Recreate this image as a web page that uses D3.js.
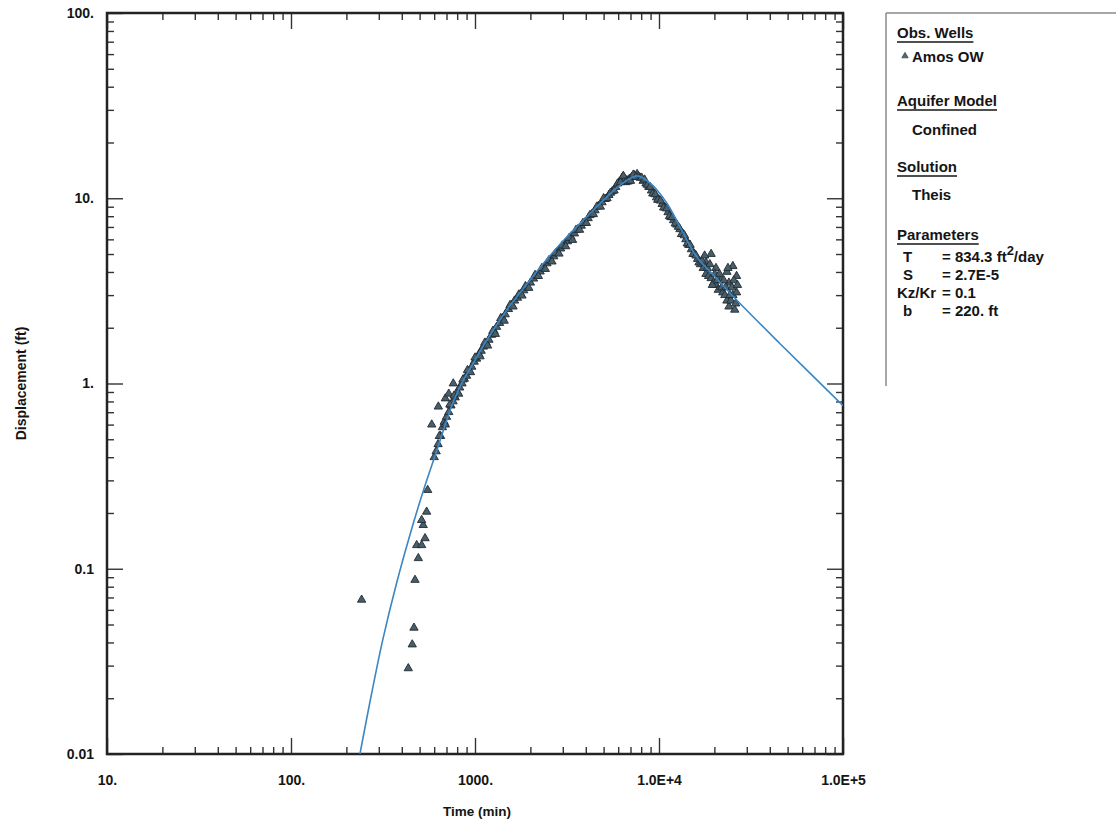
<!DOCTYPE html>
<html>
<head>
<meta charset="utf-8">
<script src="https://cdn.jsdelivr.net/npm/d3@7"></script>
<style>
  body { margin: 0; background: #fff; }
  text { font-family: "Liberation Sans", Arial, sans-serif; font-weight: bold; fill: #151515; }
</style>
</head>
<body>
<svg width="1116" height="831"></svg>
<script>
// axis decades and their printed labels
const xDecades = [10, 100, 1000, 1e4, 1e5];
const xTickLabels = ["10.", "100.", "1000.", "1.0E+4", "1.0E+5"];
const yDecades = [0.01, 0.1, 1, 10, 100];
const yTickLabels = ["0.01", "0.1", "1.", "10.", "100."];

// fitted Theis curve
const curveTime = [237, 271, 315, 375, 451, 528, 613, 763, 864, 980, 1090, 1260, 1580, 2000, 2510, 3160, 3980, 5010, 6310, 7600, 8930, 11040, 13000, 16100, 20000, 27500, 45500, 100000];
const curveDisp = [0.01, 0.02, 0.0412, 0.0838, 0.162, 0.27, 0.42, 0.8, 1.04, 1.29, 1.55, 1.95, 2.7, 3.63, 4.8, 6.2, 7.8, 9.8, 12.0, 13.2, 12.1, 9.4, 7.0, 4.8, 3.8, 2.71, 1.64, 0.76];

// observation well Amos OW
const obsTime = [
  // early scatter
  242, 434, 456, 466, 472, 492, 482, 513, 535, 523, 513, 546, 553, 582, 632, 762, 690, 720,
  // pumping
  600, 615, 630, 650, 665, 680, 700, 720, 740, 760, 780, 800, 825, 850, 875, 900, 930, 960, 990,
  1020, 1050, 1080, 1110, 1150, 1190, 1230, 1270, 1310, 1360, 1410, 1460, 1520, 1580, 1640, 1700,
  1770, 1840, 1920, 2000, 2080, 2170, 2260, 2360, 2460, 2570, 2680, 2800, 2920, 3050, 3180, 3320,
  3470, 3620, 3780, 3950, 4120, 4300, 4490, 4690, 4900, 5110, 5340, 5570, 5820, 6070, 6300, 6500,
  6700, 6900, 7100, 7350, 7600, 7750,
  640, 690, 730, 770, 815, 860, 910, 945, 1000, 1065, 1130, 1170, 1250, 1290, 1380, 1440, 1550, 1610,
  1730, 1800, 1880, 1960, 2120, 2210, 2310, 2410, 2520, 2620, 2740, 2860, 2980, 3110, 3250, 3390,
  3540, 3700, 3860, 4030, 4210, 4400, 4590, 4800, 5000, 5220, 5450, 5700, 5950, 6180, 6400, 6600,
  6800, 7000, 7250, 7480,
  // recovery
  7900, 8200, 8500, 8800, 9100, 9400, 9700, 10000, 10400, 10800, 11200, 11600, 12000, 12500, 13000,
  13500, 14000, 14500, 15000, 15600, 16200, 16800, 17400, 18000, 18000, 18600, 19200, 19200, 19800,
  20400, 20400, 21000, 21600, 22200, 22800, 23400, 23400, 24000, 24000, 24600, 25200, 25200, 25800,
  26400, 26400,
  8050, 8350, 8650, 8950, 9250, 9550, 9850, 10200, 10600, 11000, 11400, 11800, 12250, 12750, 13250,
  13750, 14250, 14750, 15300, 15900, 16500, 17100, 17700, 18300, 18900, 19500, 20100, 20700, 21300,
  21900, 22500, 23100, 23700, 24300, 24900, 25500, 26100, 26700
];
const obsDisp = [
  0.068, 0.029, 0.039, 0.048, 0.087, 0.114, 0.134, 0.134, 0.146, 0.172, 0.183, 0.203, 0.266, 0.60, 0.75, 1.0, 0.83, 0.88,
  0.40, 0.43, 0.47, 0.52, 0.58, 0.62, 0.66, 0.70, 0.76, 0.80, 0.84, 0.90, 0.95, 1.00, 1.06, 1.10, 1.17, 1.23, 1.31,
  1.36, 1.44, 1.50, 1.58, 1.66, 1.72, 1.83, 1.92, 2.02, 2.12, 2.26, 2.36, 2.52, 2.66, 2.80, 2.90,
  3.05, 3.18, 3.30, 3.50, 3.68, 3.82, 4.02, 4.18, 4.45, 4.62, 4.85, 5.10, 5.35, 5.60, 5.85, 6.20,
  6.45, 6.80, 7.10, 7.40, 7.80, 8.20, 8.60, 9.10, 9.50, 9.90, 10.4, 10.9, 11.5, 12.2, 12.9, 12.6,
  12.5, 12.7, 13.0, 13.3, 13.5, 13.1,
  0.52, 0.60, 0.77, 0.86, 0.88, 1.05, 1.18, 1.15, 1.38, 1.40, 1.66, 1.60, 1.92, 1.85, 2.25, 2.18, 2.65, 2.60,
  3.02, 2.98, 3.35, 3.28, 3.85, 3.80, 4.20, 4.15, 4.62, 4.55, 5.05, 5.02, 5.55, 5.50, 6.10, 5.95,
  6.75, 6.75, 7.35, 7.35, 8.10, 8.20, 9.00, 9.00, 10.0, 10.0, 10.7, 11.0, 12.0, 12.2, 13.2, 12.2,
  12.3, 12.4, 13.4, 13.0,
  12.9, 12.4, 12.0, 11.5, 11.0, 10.6, 10.1, 9.8, 9.3, 8.9, 8.4, 7.9, 7.6, 7.2, 6.8,
  6.4, 6.0, 5.6, 5.3, 5.0, 4.7, 4.4, 4.2, 4.5, 3.9, 3.8, 5.0, 3.7, 3.5,
  4.2, 3.4, 3.2, 3.6, 3.1, 3.0, 4.0, 2.8, 3.5, 2.6, 2.8, 4.3, 3.0, 2.5,
  3.1, 3.8,
  12.9, 12.6, 11.8, 11.5, 10.6, 10.5, 9.8, 9.7, 8.9, 8.8, 8.0, 7.9, 7.3, 7.0, 6.4,
  6.3, 5.7, 5.6, 5.0, 4.9, 4.5, 4.6, 4.9, 4.2, 4.4, 3.4, 3.9, 3.6, 3.9,
  3.3, 3.6, 3.3, 4.2, 3.0, 3.3, 3.6, 2.7, 3.4
];

// legend parameter rows
const paramNames = ["T", "S", "Kz/Kr", "b"];
const paramValues = ["= 834.3 ft", "= 2.7E-5", "= 0.1", "= 220. ft"];

const svg = d3.select("svg"),
    margin = {top: 13, left: 107},
    width = 736,
    height = 741,
    g = svg.append("g").attr("transform", "translate(" + margin.left + "," + margin.top + ")");

const x = d3.scaleLog().domain([10, 1e5]).range([0, width]);
const y = d3.scaleLog().domain([0.01, 100]).range([height, 0]);

// major + minor tick positions
function logTicks(decades) {
  const t = [];
  decades.forEach(function (d, i) {
    t.push(d);
    if (i < decades.length - 1) for (let k = 2; k <= 9; k++) t.push(d * k);
  });
  return t;
}
const isMajor = function (v) { return Math.abs(Math.log10(v) - Math.round(Math.log10(v))) < 1e-9; };
const xTicks = logTicks(xDecades), yTicks = logTicks(yDecades);
const xLab = function (v) { const i = xDecades.findIndex(function (d) { return Math.abs(d - v) < 1e-9 * d; }); return i >= 0 ? xTickLabels[i] : ""; };
const yLab = function (v) { const i = yDecades.findIndex(function (d) { return Math.abs(d - v) < 1e-9 * d; }); return i >= 0 ? yTickLabels[i] : ""; };

const MAJ = 16, MIN = 7;

const gx = g.append("g").attr("transform", "translate(0," + height + ")")
    .call(d3.axisBottom(x).tickValues(xTicks).tickFormat(xLab).tickSizeInner(-MIN).tickSizeOuter(0).tickPadding(21));
gx.selectAll(".tick line").attr("y2", function (d) { return isMajor(d) ? -MAJ : -MIN; });

const gxt = g.append("g")
    .call(d3.axisTop(x).tickValues(xTicks).tickFormat("").tickSizeInner(-MIN).tickSizeOuter(0));
gxt.selectAll(".tick line").attr("y2", function (d) { return isMajor(d) ? MAJ : MIN; });

const gy = g.append("g")
    .call(d3.axisLeft(y).tickValues(yTicks).tickFormat(yLab).tickSizeInner(-MIN).tickSizeOuter(0).tickPadding(13));
gy.selectAll(".tick line").attr("x2", function (d) { return isMajor(d) ? MAJ : MIN; });

const gyr = g.append("g").attr("transform", "translate(" + width + ",0)")
    .call(d3.axisRight(y).tickValues(yTicks).tickFormat("").tickSizeInner(-MIN).tickSizeOuter(0));
gyr.selectAll(".tick line").attr("x2", function (d) { return isMajor(d) ? -MAJ : -MIN; });

g.selectAll(".domain").remove();
g.selectAll(".tick line").attr("stroke", "#333").attr("stroke-width", 1.4);
g.selectAll(".tick text").style("font-size", "14px").style("font-family", "'Liberation Sans', Arial, sans-serif").style("font-weight", "bold").attr("fill", "#151515");

g.append("rect")
    .attr("width", width).attr("height", height)
    .attr("fill", "none").attr("stroke", "#232323").attr("stroke-width", 2.5);

// observations
const obs = obsTime.map(function (t, i) { return [t, obsDisp[i]]; });
g.append("clipPath").attr("id", "plotclip")
    .append("rect").attr("width", width).attr("height", height);

const plot = g.append("g").attr("clip-path", "url(#plotclip)");

plot.append("g").selectAll("path")
  .data(obs)
  .enter().append("path")
    .attr("transform", function (d) { return "translate(" + x(d[0]) + "," + y(d[1]) + ")"; })
    .attr("d", d3.symbol(d3.symbolTriangle).size(30))
    .attr("fill", "#4a5e68")
    .attr("stroke", "#1f2a34")
    .attr("stroke-width", 0.9);

// fitted curve
const fit = curveTime.map(function (t, i) { return [t, curveDisp[i]]; });
plot.append("path")
    .datum(fit)
    .attr("fill", "none")
    .attr("stroke", "#3b86c4")
    .attr("stroke-width", 1.6)
    .attr("d", d3.line()
      .x(function (d) { return x(d[0]); })
      .y(function (d) { return y(d[1]); })
      .curve(d3.curveCatmullRom.alpha(0.5)));

// axis titles
svg.append("text")
    .attr("transform", "translate(26," + (margin.top + height / 2) + ") rotate(-90)")
    .attr("text-anchor", "middle")
    .style("font-size", "14px")
    .text("Displacement (ft)");

svg.append("text")
    .attr("x", margin.left + x(1000) + 2)
    .attr("y", 816)
    .attr("text-anchor", "middle")
    .style("font-size", "13.5px")
    .text("Time (min)");

// legend panel
const lg = svg.append("g");
lg.append("line").attr("x1", 886).attr("x2", 886).attr("y1", 13).attr("y2", 386)
    .attr("stroke", "#8a8a8a").attr("stroke-width", 1.5);
lg.append("line").attr("x1", 886).attr("x2", 1116).attr("y1", 13).attr("y2", 13)
    .attr("stroke", "#8a8a8a").attr("stroke-width", 1.5);

function heading(txt, yy) {
  const t = lg.append("text").attr("x", 897).attr("y", yy).style("font-size", "15px").text(txt);
  const w = t.node().getComputedTextLength();
  lg.append("line").attr("x1", 897).attr("x2", 897 + w).attr("y1", yy + 4).attr("y2", yy + 4)
      .attr("stroke", "#151515").attr("stroke-width", 1.5);
}
function item(txt, xx, yy) {
  return lg.append("text").attr("x", xx).attr("y", yy).style("font-size", "15px").text(txt);
}

heading("Obs. Wells", 38);
lg.append("path")
    .attr("transform", "translate(905,56)")
    .attr("d", d3.symbol(d3.symbolTriangle).size(18))
    .attr("fill", "#56666e").attr("stroke", "#26303a").attr("stroke-width", 0.6);
item("Amos OW", 912, 62);
heading("Aquifer Model", 106);
item("Confined", 912, 135);
heading("Solution", 172);
item("Theis", 912, 200);
heading("Parameters", 240);

paramNames.forEach(function (n, i) {
  const yy = 262 + i * 18;
  item(n, n === "Kz/Kr" ? 897 : 903, yy);
  const v = item(paramValues[i], 942, yy);
  if (i === 0) {
    v.append("tspan").attr("dy", -7).style("font-size", "13px").text("2");
    v.append("tspan").attr("dy", 7).text("/day");
  }
});
</script>
</body>
</html>
